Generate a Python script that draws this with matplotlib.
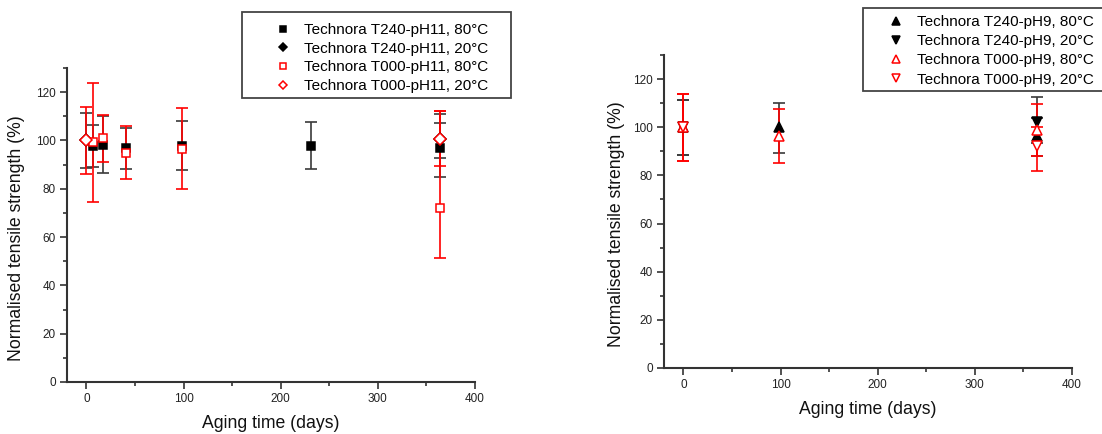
import matplotlib
matplotlib.use("Agg")
import matplotlib.pyplot as plt
from matplotlib.ticker import MultipleLocator
from matplotlib.patches import Rectangle

plt.rcParams['font.family'] = ['Liberation Sans', 'DejaVu Sans']

# ---------------- data: left panel (pH11) ----------------
days_t240_ph11_80 = [7, 17, 41, 98, 231, 364]
str_t240_ph11_80 = [97.6, 98.2, 96.9, 97.9, 97.9, 96.8]
lo_t240_ph11_80 = [89.0, 86.5, 88.2, 87.7, 88.2, 84.8]
hi_t240_ph11_80 = [106.5, 110.0, 105.3, 108.1, 107.6, 110.8]

days_t240_ph11_20 = [0, 364]
str_t240_ph11_20 = [100.0, 100.5]
lo_t240_ph11_20 = [88.5, 92.8]
hi_t240_ph11_20 = [111.5, 107.3]

days_t000_ph11_80 = [7, 17, 41, 98, 364]
str_t000_ph11_80 = [99.3, 101.0, 94.8, 96.6, 72.0]
lo_t000_ph11_80 = [74.5, 91.0, 84.2, 79.8, 51.5]
hi_t000_ph11_80 = [123.7, 110.5, 105.8, 113.6, 112.4]

days_t000_ph11_20 = [0, 364]
str_t000_ph11_20 = [100.0, 100.7]
lo_t000_ph11_20 = [86.0, 89.3]
hi_t000_ph11_20 = [114.0, 112.0]

# ---------------- data: right panel (pH9) ----------------
days_t240_ph9_80 = [0, 98, 364]
str_t240_ph9_80 = [100.0, 100.0, 96.2]
lo_t240_ph9_80 = [88.5, 89.5, 88.2]
hi_t240_ph9_80 = [111.4, 110.0, 104.0]

days_t240_ph9_20 = [0, 364]
str_t240_ph9_20 = [100.0, 102.2]
lo_t240_ph9_20 = [88.5, 93.6]
hi_t240_ph9_20 = [111.4, 112.6]

days_t000_ph9_80 = [0, 98, 364]
str_t000_ph9_80 = [100.0, 96.4, 99.0]
lo_t000_ph9_80 = [86.0, 85.2, 88.0]
hi_t000_ph9_80 = [114.0, 107.5, 109.6]

days_t000_ph9_20 = [0, 364]
str_t000_ph9_20 = [100.0, 92.0]
lo_t000_ph9_20 = [86.0, 82.0]
hi_t000_ph9_20 = [114.0, 100.0]

labels_left = ['Technora T240-pH11, 80°C', 'Technora T240-pH11, 20°C',
               'Technora T000-pH11, 80°C', 'Technora T000-pH11, 20°C']
labels_right = ['Technora T240-pH9, 80°C', 'Technora T240-pH9, 20°C',
                'Technora T000-pH9, 80°C', 'Technora T000-pH9, 20°C']

x_ticks = [0, 100, 200, 300, 400]
y_ticks = [0, 20, 40, 60, 80, 100, 120]

W, H = 1102, 434
fig = plt.figure(figsize=(W / 100, H / 100), dpi=100)

ax1 = fig.add_axes([67 / W, 1 - 382 / H, 408 / W, 314 / H])
ax2 = fig.add_axes([664 / W, 1 - 368 / H, 408 / W, 313 / H])

BLK_ERR = '#3a3a3a'
RED = '#ff0000'


def series(ax, x, y, lo, hi, marker, color, ecolor, filled, label, ms):
    yerr = [[yy - l for yy, l in zip(y, lo)], [h - yy for yy, h in zip(y, hi)]]
    ax.errorbar(x, y, yerr=yerr, fmt='none', ecolor=ecolor, elinewidth=1.2,
                capsize=4, capthick=1.2, zorder=2)
    ax.plot(x, y, linestyle='none', marker=marker, markersize=ms,
            markerfacecolor=color if filled else 'white',
            markeredgecolor=color, markeredgewidth=1.1, label=label, zorder=3)


series(ax1, days_t240_ph11_80, str_t240_ph11_80, lo_t240_ph11_80, hi_t240_ph11_80,
       's', 'black', BLK_ERR, True, labels_left[0], 6)
series(ax1, days_t240_ph11_20, str_t240_ph11_20, lo_t240_ph11_20, hi_t240_ph11_20,
       'D', 'black', BLK_ERR, True, labels_left[1], 6)
series(ax1, days_t000_ph11_80, str_t000_ph11_80, lo_t000_ph11_80, hi_t000_ph11_80,
       's', RED, RED, False, labels_left[2], 6)
series(ax1, days_t000_ph11_20, str_t000_ph11_20, lo_t000_ph11_20, hi_t000_ph11_20,
       'D', RED, RED, False, labels_left[3], 6)

series(ax2, days_t240_ph9_80, str_t240_ph9_80, lo_t240_ph9_80, hi_t240_ph9_80,
       '^', 'black', BLK_ERR, True, labels_right[0], 7)
series(ax2, days_t240_ph9_20, str_t240_ph9_20, lo_t240_ph9_20, hi_t240_ph9_20,
       'v', 'black', BLK_ERR, True, labels_right[1], 7)
series(ax2, days_t000_ph9_80, str_t000_ph9_80, lo_t000_ph9_80, hi_t000_ph9_80,
       '^', RED, RED, False, labels_right[2], 7)
series(ax2, days_t000_ph9_20, str_t000_ph9_20, lo_t000_ph9_20, hi_t000_ph9_20,
       'v', RED, RED, False, labels_right[3], 7)

SPINE = '#333333'
for ax, lx, ly in ((ax1, -0.103, 0.459), (ax2, -0.096, 0.46)):
    ax.set_xlim(-20, 400)
    ax.set_ylim(0, 130)
    ax.set_xticks(x_ticks)
    ax.set_yticks(y_ticks)
    ax.xaxis.set_minor_locator(MultipleLocator(50))
    ax.yaxis.set_minor_locator(MultipleLocator(10))
    for s in ('top', 'right'):
        ax.spines[s].set_visible(False)
    for s in ('left', 'bottom'):
        ax.spines[s].set_color(SPINE)
        ax.spines[s].set_linewidth(1.5)
    ax.tick_params(which='major', direction='out', length=5, width=1.2,
                   color=SPINE, labelsize=8.5, labelcolor='#222222', pad=3)
    ax.tick_params(which='minor', direction='out', length=3, width=1.2, color=SPINE)
    ax.set_xlabel('Aging time (days)', fontsize=12.7, labelpad=7, color='#111111')
    ax.set_ylabel('Normalised tensile strength (%)', fontsize=12.7, color='#111111')
    ax.yaxis.set_label_coords(lx, ly)

# legend frames drawn as plain rectangles (figure pixels), beneath the legends
for ax, (x0, y0, x1, y1) in ((ax1, (242, 12, 511, 98)), (ax2, (863, 8, 1110, 91))):
    ax.add_patch(Rectangle((x0 / W, 1 - y1 / H), (x1 - x0) / W, (y1 - y0) / H,
                           transform=fig.transFigure, facecolor='white',
                           edgecolor='#444444', linewidth=1.3, zorder=5,
                           clip_on=False))

leg_kw = dict(loc='upper left', fontsize=11, frameon=False, borderpad=0,
              markerscale=0.75, bbox_transform=fig.transFigure, borderaxespad=0,
              handlelength=1.0, handletextpad=0.87)

l1 = ax1.legend(bbox_to_anchor=(275.4 / W, 1 - 23 / H), labelspacing=0.31, **leg_kw)
l2 = ax2.legend(bbox_to_anchor=(888.4 / W, 1 - 15 / H), labelspacing=0.34, **leg_kw)
for lg in (l1, l2):
    lg.set_zorder(10)

fig.savefig('out.png', dpi=100)
